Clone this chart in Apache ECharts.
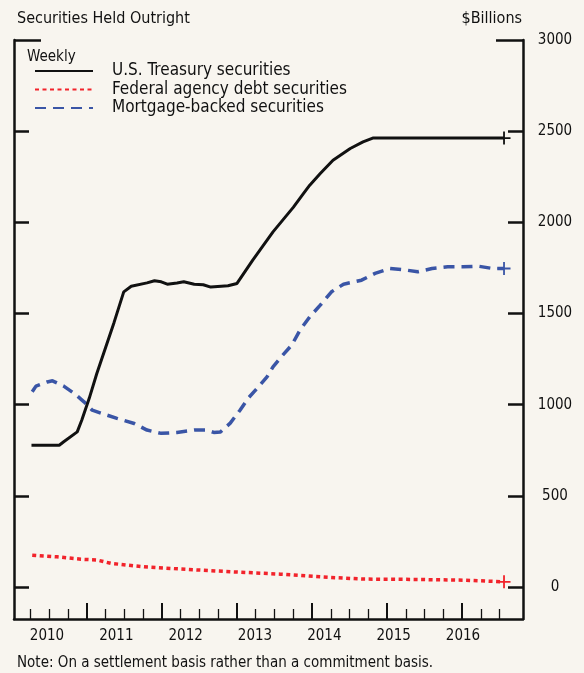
<!DOCTYPE html>
<html>
<head>
<meta charset="utf-8">
<script src="https://cdn.jsdelivr.net/npm/echarts@6/dist/echarts.min.js"></script>
<style>
html,body{margin:0;padding:0;background:#f8f5ef;}
#chart{width:584px;height:673px;}
</style>
</head>
<body>
<div id="chart"></div>
<script>
// ---- Data (decimal years, $Billions) ----
const tsyYears = [2010.26, 2010.63, 2010.69, 2010.87, 2010.93, 2011.03, 2011.13, 2011.36, 2011.49, 2011.59, 2011.80, 2011.90, 2011.99, 2012.07, 2012.20, 2012.29, 2012.43, 2012.55, 2012.65, 2012.79, 2012.88, 2013.00, 2013.21, 2013.48, 2013.75, 2013.89, 2013.97, 2014.11, 2014.28, 2014.51, 2014.68, 2014.81, 2016.56];
const tsyValues = [778, 778, 797, 851, 915, 1035, 1170, 1450, 1619, 1650, 1668, 1680, 1674, 1661, 1668, 1674, 1661, 1658, 1645, 1650, 1652, 1665, 1793, 1948, 2082, 2160, 2204, 2268, 2341, 2405, 2441, 2462, 2462];

const agyYears = [2010.27, 2010.60, 2010.92, 2011.14, 2011.32, 2011.76, 2012.25, 2012.92, 2013.58, 2014.25, 2014.69, 2015.36, 2016.03, 2016.56];
const agyValues = [175, 166, 153, 148, 130, 111, 99, 84, 71, 53, 44, 42, 38, 29];

const mbsYears = [2010.27, 2010.32, 2010.47, 2010.54, 2010.69, 2010.83, 2010.96, 2011.07, 2011.23, 2011.40, 2011.63, 2011.80, 2011.99, 2012.20, 2012.43, 2012.60, 2012.69, 2012.78, 2012.91, 2013.04, 2013.15, 2013.27, 2013.40, 2013.48, 2013.61, 2013.73, 2013.84, 2013.97, 2014.11, 2014.26, 2014.42, 2014.66, 2014.84, 2015.04, 2015.26, 2015.41, 2015.60, 2015.81, 2016.01, 2016.21, 2016.41, 2016.56];
const mbsValues = [1071, 1102, 1125, 1131, 1102, 1062, 1016, 970, 948, 925, 897, 861, 843, 848, 861, 861, 848, 851, 899, 970, 1036, 1091, 1153, 1208, 1272, 1327, 1409, 1482, 1546, 1619, 1661, 1683, 1720, 1747, 1738, 1729, 1747, 1756, 1756, 1760, 1747, 1747];

const seriesNames = ['U.S. Treasury securities', 'Federal agency debt securities', 'Mortgage-backed securities'];
const yearLabels = [2010, 2011, 2012, 2013, 2014, 2015, 2016];
const yTickValues = [0, 500, 1000, 1500, 2000, 2500];
const yLabelValues = [0, 500, 1000, 1500, 2000, 2500, 3000];

// ---- Axis ranges ----
const XMIN = 2010.027, XMAX = 2016.813;
const LABMIN = 2009.524, LABMAX = 2016.866;
const YMIN = -175, YMAX = 3000;

const yearTicks = [2011, 2012, 2013, 2014, 2015, 2016];
const quarterTicks = [];
for (let y = 2010; y <= 2016; y++) {
  [0.25, 0.5, 0.75].forEach(q => { const v = y + q; if (v > XMIN && v < XMAX - 0.1) quarterTicks.push(v); });
}

const FONT = "'Liberation Sans Narrow', 'DejaVu Sans Condensed', 'Arial Narrow', sans-serif";
const PLUS = 'path://M5.6,0H7.4V5.6H13V7.4H7.4V13H5.6V7.4H0V5.6H5.6Z';

function mk(xs, vs) {
  const last = xs.length - 1;
  return xs.map((x, i) => i === last ? { value: [x, vs[i]], symbol: PLUS, symbolSize: 13 } : [x, vs[i]]);
}

const chart = echarts.init(document.getElementById('chart'), null, { renderer: 'canvas' });
const black = '#111';
chart.setOption({
  backgroundColor: '#f8f5ef',
  animation: false,
  textStyle: { fontFamily: FONT },
  title: [
    { text: 'Securities Held Outright', left: 12, top: 6, textStyle: { fontFamily: FONT, fontSize: 16, fontWeight: 'normal', color: black } },
    { text: '$Billions', right: 57, top: 6, textStyle: { fontFamily: FONT, fontSize: 16, fontWeight: 'normal', color: black } },
    { text: 'Weekly', left: 22, top: 45, textStyle: { fontFamily: FONT, fontSize: 15, fontWeight: 'normal', color: black } },
    { text: 'Note: On a settlement basis rather than a commitment basis.', left: 12, top: 651, textStyle: { fontFamily: FONT, fontSize: 15, fontWeight: 'normal', color: black } }
  ],
  legend: {
    data: seriesNames,
    orient: 'vertical',
    left: 34, top: 62, padding: 0,
    itemWidth: 58, itemHeight: 14, itemGap: 0.5,
    selectedMode: false,
    itemStyle: { color: 'transparent', borderColor: 'transparent', borderWidth: 0, opacity: 0 },
    textStyle: { fontFamily: FONT, fontSize: 17, color: black, padding: [0, 0, 0, 14], lineHeight: 18 }
  },
  grid: { left: 14, right: 61, top: 40, bottom: 54, containLabel: false },
  xAxis: [
    { type: 'value', min: XMIN, max: XMAX, position: 'bottom',
      axisLine: { show: true, onZero: false, lineStyle: { color: black, width: 2.5 } },
      axisTick: { show: true, inside: true, length: 16, customValues: yearTicks, lineStyle: { color: black, width: 2 } },
      axisLabel: { show: false }, splitLine: { show: false } },
    { type: 'value', min: XMIN, max: XMAX, position: 'bottom',
      axisLine: { show: false, onZero: false },
      axisTick: { show: true, inside: true, length: 10, customValues: quarterTicks, lineStyle: { color: black, width: 1.3 } },
      axisLabel: { show: false }, splitLine: { show: false } },
    { type: 'value', min: LABMIN, max: LABMAX, position: 'bottom',
      axisLine: { show: false, onZero: false }, axisTick: { show: false }, splitLine: { show: false },
      axisLabel: { show: true, customValues: yearLabels, margin: 10, formatter: v => String(v), fontFamily: FONT, fontSize: 15, color: black, showMinLabel: true, showMaxLabel: true } }
  ],
  yAxis: [
    { type: 'value', min: YMIN, max: YMAX, position: 'left',
      axisLine: { show: true, onZero: false, lineStyle: { color: black, width: 2.5 } },
      axisTick: { show: true, inside: true, length: 15, customValues: yTickValues, lineStyle: { color: black, width: 2.5 } },
      axisLabel: { show: false }, splitLine: { show: false } },
    { type: 'value', min: YMIN, max: YMAX, position: 'right',
      axisLine: { show: true, onZero: false, lineStyle: { color: black, width: 2.5 } },
      axisTick: { show: true, inside: true, length: 15, customValues: yTickValues, lineStyle: { color: black, width: 2.5 } },
      axisLabel: { show: true, customValues: yLabelValues, margin: 32, align: 'center', formatter: v => String(v), fontFamily: FONT, fontSize: 15, color: black },
      splitLine: { show: false } },
    { type: 'value', min: YMIN, max: YMAX, position: 'left',
      axisLine: { show: false, onZero: false },
      axisTick: { show: true, inside: true, length: 27, customValues: [3000], lineStyle: { color: black, width: 2.5 } },
      axisLabel: { show: false }, splitLine: { show: false } },
    { type: 'value', min: YMIN, max: YMAX, position: 'right',
      axisLine: { show: false, onZero: false },
      axisTick: { show: true, inside: true, length: 27, customValues: [3000], lineStyle: { color: black, width: 2.5 } },
      axisLabel: { show: false }, splitLine: { show: false } }
  ],
  series: [
    { name: seriesNames[0], type: 'line', xAxisIndex: 0, yAxisIndex: 0, data: mk(tsyYears, tsyValues),
      symbol: 'none', showSymbol: true, color: black, itemStyle: { color: black },
      lineStyle: { color: black, width: 3 }, z: 5 },
    { name: seriesNames[1], type: 'line', xAxisIndex: 0, yAxisIndex: 0, data: mk(agyYears, agyValues),
      symbol: 'none', showSymbol: true, color: '#f2232b', itemStyle: { color: '#f2232b' },
      lineStyle: { color: '#f2232b', width: 3.5, type: [4, 3.5] }, z: 4 },
    { name: seriesNames[2], type: 'line', xAxisIndex: 0, yAxisIndex: 0, data: mk(mbsYears, mbsValues),
      symbol: 'none', showSymbol: true, color: '#3a55a6', itemStyle: { color: '#3a55a6' },
      lineStyle: { color: '#3a55a6', width: 3.5, type: [11, 7] }, z: 4 }
  ]
});
</script>
</body>
</html>
